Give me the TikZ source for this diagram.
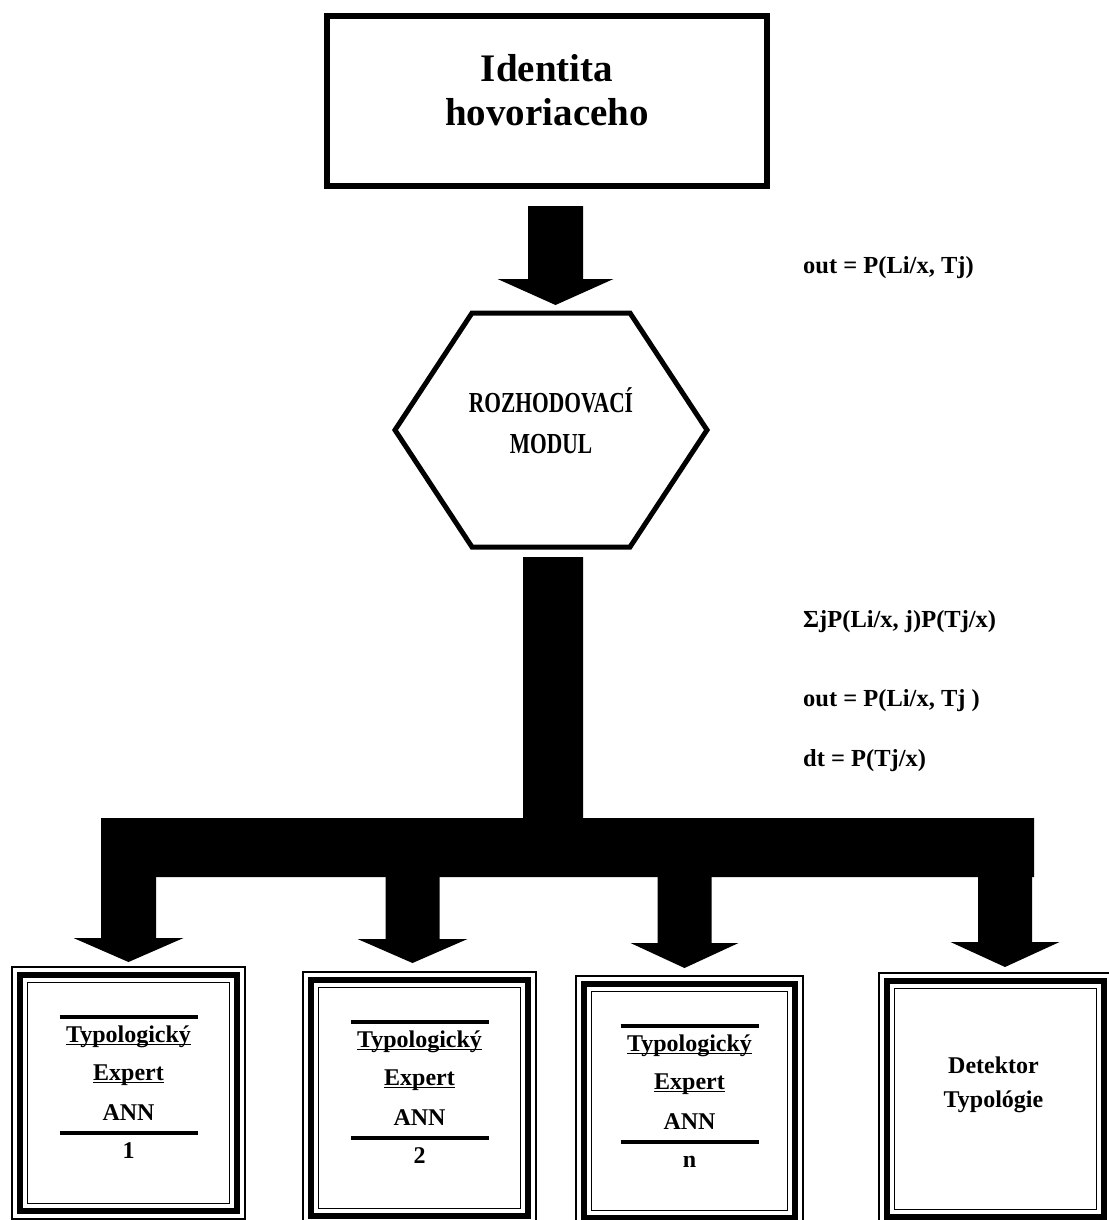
\documentclass[tikz,border=0pt]{standalone}
\usepackage{fontspec}
\setmainfont{Liberation Serif}
\usepackage{graphicx}
\usetikzlibrary{calc}

% solid block arrow: #1 start, #2 tip (same x), #3 shaft half-width,
% #4 head half-width, #5 head length
\newcommand\blockarrow[5]{%
  \fill ($(#1)+(-#3,0)$) -- ($(#1)+(#3,0)$) -- ($(#2)+(#3,-#5)$)
    -- ($(#2)+(#4,-#5)$) -- (#2) -- ($(#2)+(-#4,-#5)$)
    -- ($(#2)+(-#3,-#5)$) -- cycle;}

% thick and thin inner frames of a framed box
\newcommand\innerframes[1]{%
  \draw[line width=6] ([shift={(8,8)}]#1.north west) rectangle ([shift={(-8,-8)}]#1.south east);
  \draw[line width=1.5] ([shift={(15.5,15.5)}]#1.north west) rectangle ([shift={(-15.5,-15.5)}]#1.south east);}

% underline drawn just below the baseline, through the descenders
\newcommand\uline[1]{\leavevmode\setbox0\hbox{#1}\rlap{\rule[-3pt]{\wd0}{1.3pt}}\box0}

% contents of an expert box
\newcommand\expertcontent[2]{%
  \draw[line width=4.5] ([shift={(-69,50)}]#1.north) -- ([shift={(69,50)}]#1.north);
  \node[boxtxt] (#1-a) at ([shift={(0,75)}]#1.north) {\uline{Typologický}};
  \node[boxtxt] (#1-b) at ([shift={(0,113)}]#1.north) {\uline{Expert}};
  \node[boxtxt] (#1-c) at ([shift={(0,153)}]#1.north) {ANN};
  \draw[line width=4.5] ([shift={(-69,166)}]#1.north) -- ([shift={(69,166)}]#1.north);
  \node[boxtxt] (#1-d) at ([shift={(0,191)}]#1.north) {#2};}

\begin{document}
\begin{tikzpicture}[x=1pt,y=-1pt,
  framebox/.style={draw, line width=1.5, inner sep=0, outer sep=0},
  boxtxt/.style={inner sep=0, anchor=base, font=\fontsize{24}{28}\selectfont\bfseries},
  lbl/.style={inner sep=0, anchor=base west, font=\fontsize{24.5}{28}\selectfont\bfseries},
  titletxt/.style={inner sep=0, anchor=base, font=\fontsize{39}{45}\selectfont\bfseries},
  hextxt/.style={inner sep=0, anchor=base, font=\fontsize{29}{32}\selectfont\bfseries}]
\useasboundingbox (0,0) rectangle (1108,1220);

% speaker identity box
\node[draw, line width=6, inner sep=0, outer sep=0, minimum width=440, minimum height=170]
  (id) at (547,101) {};
\node[titletxt] (id1) at (547,82) {Identita};
\node[titletxt] (id2) at (547,126) {hovoriaceho};

% decision module
\coordinate (h1) at (472,313);
\coordinate (h2) at (630,313);
\coordinate (h3) at (707,430);
\coordinate (h4) at (630,547);
\coordinate (h5) at (472,547);
\coordinate (h6) at (395,430);
\draw[line width=5, line join=miter] (h1) -- (h2) -- (h3) -- (h4) -- (h5) -- (h6) -- cycle;
\node[hextxt] (hx1) at (551,412) {\scalebox{0.74}[1]{ROZHODOVACÍ}};
\node[hextxt] (hx2) at (551,453) {\scalebox{0.74}[1]{MODUL}};

% arrow from identity box into the module
\coordinate (t0) at (555.5,206);
\coordinate (t1) at (555.5,305);
\blockarrow{t0}{t1}{27.5}{58}{26}

% trunk and distribution bar
\fill (523,557) -- (583,557) -- (583,818) -- (1034,818) -- (1034,877)
  -- (101,877) -- (101,818) -- (523,818) -- cycle;

% formulas
\node[lbl] (f0) at (803,273) {out = P(Li/x, Tj)};
\node[lbl] (f1) at (803,627) {ΣjP(Li/x, j)P(Tj/x)};
\node[lbl] (f2) at (803,706) {out = P(Li/x, Tj )};
\node[lbl] (f3) at (803,766) {dt = P(Tj/x)};

% framed boxes
\node[framebox, minimum width=233, minimum height=252] (e1) at (128.5,1093) {};
\node[framebox, minimum width=233, minimum height=252] (e2) at (419.5,1098) {};
\node[framebox, minimum width=227, minimum height=250] (e3) at (689.5,1101) {};
\node[framebox, minimum width=233, minimum height=252] (det) at (995.5,1099) {};
\innerframes{e1}
\innerframes{e2}
\innerframes{e3}
\innerframes{det}

\expertcontent{e1}{1}
\expertcontent{e2}{2}
\expertcontent{e3}{n}
\node[boxtxt] (det-a) at ([shift={(-2,100)}]det.north) {Detektor};
\node[boxtxt] (det-b) at ([shift={(-2,134)}]det.north) {Typológie};

% arrows from the bar into the boxes
\coordinate (b1) at (128.5,870);  \coordinate (p1) at (128.5,962);
\coordinate (b2) at (412.5,870);  \coordinate (p2) at (412.5,963);
\coordinate (b3) at (684.5,870);  \coordinate (p3) at (684.5,968);
\coordinate (b4) at (1005,870);   \coordinate (p4) at (1005,967);
\blockarrow{b1}{p1}{27.5}{55}{24}
\blockarrow{b2}{p2}{27}{55}{24}
\blockarrow{b3}{p3}{27}{54}{25}
\blockarrow{b4}{p4}{27}{54.5}{25}
\end{tikzpicture}
\end{document}
